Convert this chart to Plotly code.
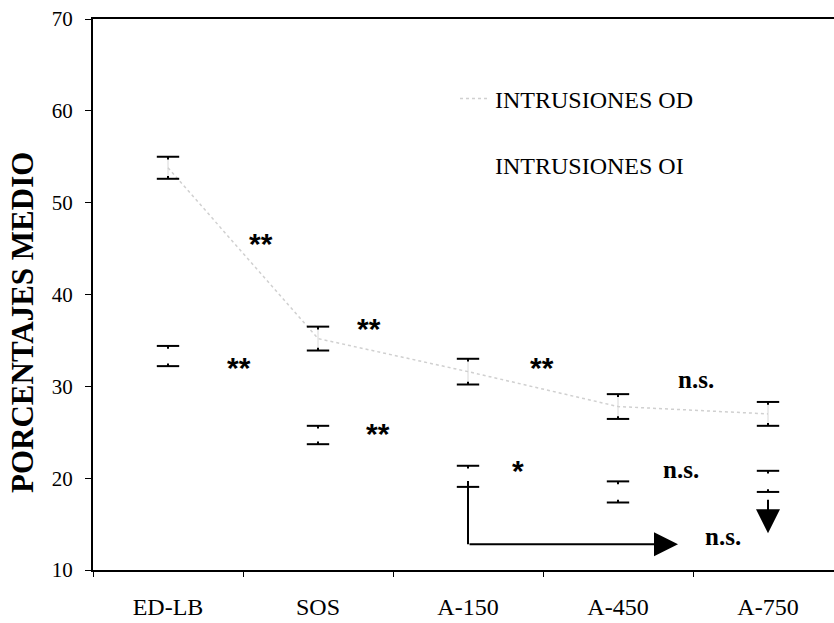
import plotly.graph_objects as go

# Categories and series (mean percentage ± error)
categories = ["ED-LB", "SOS", "A-150", "A-450", "A-750"]
od_mean = [53.8, 35.2, 31.6, 27.8, 27.0]
od_err = [1.2, 1.3, 1.4, 1.35, 1.3]
oi_mean = [33.3, 24.7, 20.2, 18.5, 19.65]
oi_err = [1.1, 1.0, 1.15, 1.15, 1.15]

# Significance marks: (x position in category units, y value, text)
sig_x = [0.62, 0.47, 1.34, 1.40, 2.49, 2.33, 3.52, 3.42, 3.70]
sig_y = [45.9, 32.4, 36.6, 25.2, 32.4, 21.2, 30.7, 20.9, 13.7]
sig_text = ["**", "**", "**", "**", "**", "*", "n.s.", "n.s.", "n.s."]

SERIF = "Liberation Serif, Times New Roman, serif"
SANS = "Liberation Sans, Arial, sans-serif"

fig = go.Figure()

# OD series: light grey dotted line with faint error stems
fig.add_trace(go.Scatter(
    x=categories, y=od_mean, mode="lines",
    name="INTRUSIONES OD",
    line=dict(color="#d0d0d0", width=1.5, dash="dot"),
    error_y=dict(type="data", array=od_err, color="#d8d8d8", thickness=1, width=0),
    legend="legend",
))
# OI series: white line (invisible on white background)
fig.add_trace(go.Scatter(
    x=categories, y=oi_mean, mode="lines",
    name="INTRUSIONES OI",
    line=dict(color="white", width=2),
    legend="legend2",
))

# Black caps of the error bars, each with a short stub towards the mean
stub = 0.3
for mean, err in ((od_mean, od_err), (oi_mean, oi_err)):
    tops = [m + e for m, e in zip(mean, err)]
    bots = [m - e for m, e in zip(mean, err)]
    fig.add_trace(go.Scatter(
        x=categories, y=tops, mode="markers",
        marker=dict(symbol="line-ew", size=16, line=dict(color="black", width=2)),
        error_y=dict(type="data", symmetric=False, array=[0] * len(tops),
                     arrayminus=[stub] * len(tops), color="black", thickness=2, width=0),
        showlegend=False, hoverinfo="skip",
    ))
    fig.add_trace(go.Scatter(
        x=categories, y=bots, mode="markers",
        marker=dict(symbol="line-ew", size=16, line=dict(color="black", width=2)),
        error_y=dict(type="data", symmetric=False, array=[stub] * len(bots),
                     arrayminus=[0] * len(bots), color="black", thickness=2, width=0),
        showlegend=False, hoverinfo="skip",
    ))

# Significance annotations
for x, y, t in zip(sig_x, sig_y, sig_text):
    if "*" in t:
        fig.add_annotation(x=x, y=y, xref="x", yref="y", text="<b>" + t + "</b>",
                           showarrow=False, yshift=-3,
                           font=dict(family=SANS, size=30, color="black"))
    else:
        fig.add_annotation(x=x, y=y, xref="x", yref="y", text="<b>" + t + "</b>",
                           showarrow=False,
                           font=dict(family=SERIF, size=25, color="black"))

# L-shaped arrow from A-150 towards A-750
arrow_x0, arrow_x1 = 2.0, 3.40
arrow_y0, arrow_y1 = 19.7, 12.8
fig.add_shape(type="line", xref="x", yref="y", x0=arrow_x0, x1=arrow_x0,
              y0=arrow_y0, y1=arrow_y1, line=dict(color="black", width=2))
fig.add_annotation(x=arrow_x1, y=arrow_y1, ax=arrow_x0, ay=arrow_y1,
                   xref="x", yref="y", axref="x", ayref="y", text="",
                   showarrow=True, arrowhead=2, arrowsize=2.4, arrowwidth=2,
                   arrowcolor="black")
# Downward arrow at A-750
fig.add_annotation(x=4.0, y=14.0, ax=4.0, ay=17.8,
                   xref="x", yref="y", axref="x", ayref="y", text="",
                   showarrow=True, arrowhead=2, arrowsize=2.4, arrowwidth=2,
                   arrowcolor="black")

W, H = 834, 623
ml, mr, mt, mb = 93, 0, 19, 53
pw, ph = W - ml - mr, H - mt - mb

# Vertical axis title
fig.add_annotation(
    x=(22 - ml) / pw, y=(570 - 323) / ph, xref="paper", yref="paper",
    xanchor="center", yanchor="middle", textangle=-90, showarrow=False,
    text="<b>PORCENTAJES MEDIO</b>",
    font=dict(family=SERIF, size=31, color="black"),
)

legend_style = dict(
    bgcolor="rgba(0,0,0,0)", borderwidth=0,
    font=dict(family=SERIF, size=24, color="black"),
    xanchor="left", yanchor="middle",
)
fig.update_layout(
    width=W, height=H,
    margin=dict(l=ml, r=mr, t=mt, b=mb),
    paper_bgcolor="white", plot_bgcolor="white",
    showlegend=True,
    legend=dict(x=(455 - ml) / pw, y=(570 - 99) / ph, **legend_style),
    legend2=dict(x=(455 - ml) / pw, y=(570 - 165) / ph, **legend_style),
    xaxis=dict(
        type="category", range=[-0.5, 4.44],
        tickson="boundaries", ticks="outside", ticklen=5, tickcolor="black",
        ticklabelstandoff=14,
        showline=True, linecolor="black", linewidth=2, mirror=True,
        showgrid=False, zeroline=False,
        tickfont=dict(family=SERIF, size=24, color="black"),
    ),
    yaxis=dict(
        range=[10, 70], dtick=10, ticks="outside", ticklen=6, tickcolor="black",
        ticklabelstandoff=8,
        showline=True, linecolor="black", linewidth=2,
        showgrid=False, zeroline=False,
        tickfont=dict(family=SERIF, size=21, color="black"),
    ),
)

fig.write_html("out.html")
